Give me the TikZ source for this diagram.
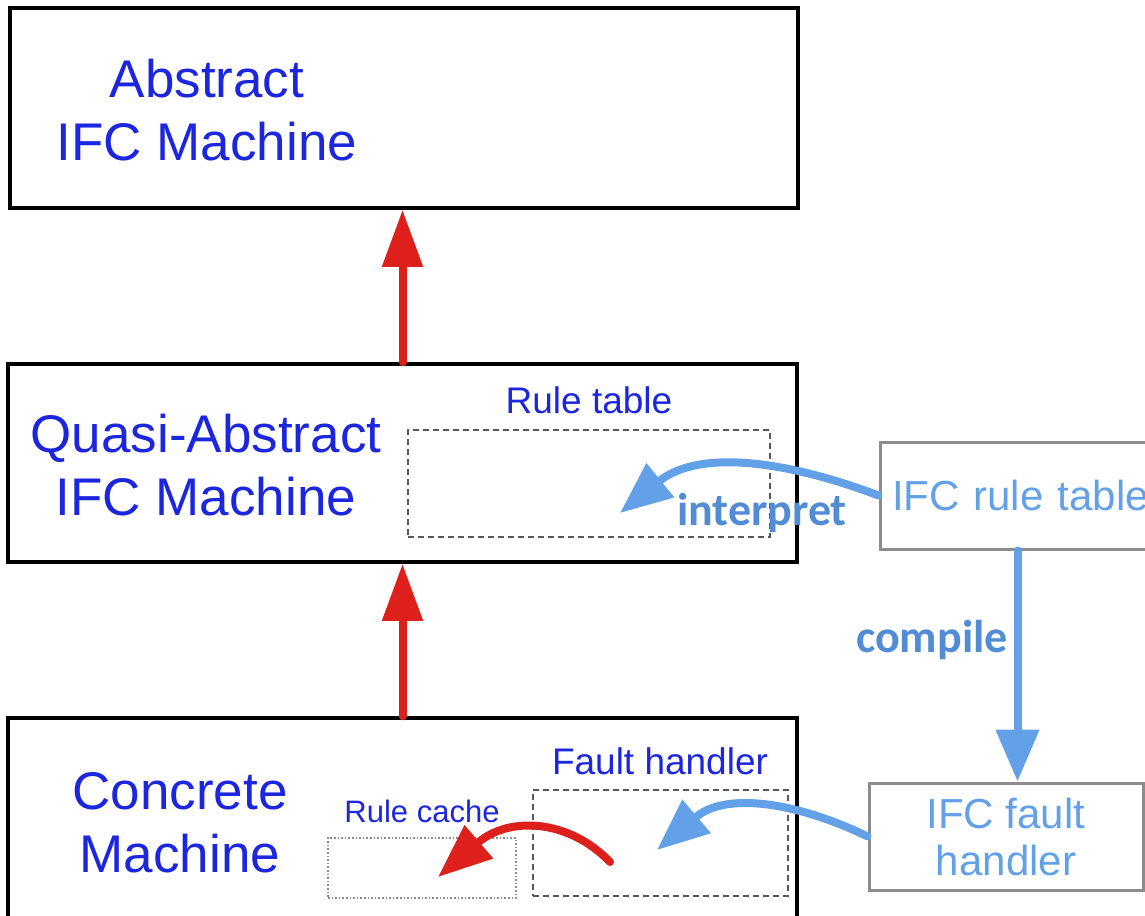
\documentclass[tikz,border=0pt]{standalone}
\usepackage{fontspec}
\setmainfont{Liberation Sans}
\newfontfamily\labelfont{Carlito}
\usetikzlibrary{arrows.meta}
\definecolor{machblue}{RGB}{28,38,222}
\definecolor{ifcblue}{RGB}{98,160,232}
\definecolor{verbblue}{RGB}{82,140,212}
\definecolor{redarrow}{RGB}{222,32,28}
\definecolor{boxgray}{RGB}{140,140,140}
\tikzset{
  machine/.style={draw=black, line width=3.5pt, minimum width=#1, inner sep=0pt},
  machtext/.style={text=machblue, align=center, font=\fontsize{53}{63}\selectfont, inner sep=0pt},
  subtext/.style={text=machblue, inner sep=0pt},
  ifcbox/.style={draw=boxgray, line width=3pt, text=ifcblue, align=center, inner sep=0pt,
                 font=\fontsize{42}{47}\selectfont},
  refine/.style={draw=redarrow, line width=8pt, line cap=round,
                 -{Triangle[length=57pt,width=39pt]}},
  flow/.style={draw=ifcblue, line width=8pt, line cap=round,
               -{Triangle[length=52pt,width=42pt]}},
  verb/.style={text=verbblue, font=\labelfont\bfseries\fontsize{46}{46}\selectfont, inner sep=0pt},
  component/.style={draw=black!65, line width=1.8pt, dash pattern=on 6pt off 4pt, inner sep=0pt},
}
\begin{document}
\begin{tikzpicture}[x=1pt,y=-1pt]
\useasboundingbox (0,0) rectangle (1145,915);

% three machine levels
\node[machine=788pt, minimum height=200pt] (abstract) at (404,108) {};
\node[machine=789pt, minimum height=198pt] (quasi) at (402.5,463) {};
\node[machine=789pt, minimum height=204pt] (concrete) at (402.5,820) {};

\node[machtext] (abstractlbl) at (207,110) {Abstract\\IFC Machine};
\node[machtext] (quasilbl) at (206,465) {Quasi-Abstract\\IFC Machine};
\node[machtext] (concretelbl) at (180,823) {Concrete\\Machine};

% internal components
\node[component, minimum width=362pt, minimum height=107pt] (ruletable) at (589,483.5) {};
\node[subtext, font=\fontsize{37}{37}\selectfont] (ruletablelbl) at (589,400) {Rule table};

\node[component, minimum width=255pt, minimum height=106pt] (faulthandler) at (660.5,843) {};
\node[subtext, font=\fontsize{37}{37}\selectfont] (faulthandlerlbl) at (660,761) {Fault handler};

\node[draw=black!45, dotted, line width=1.6pt, minimum width=188pt, minimum height=60pt,
      inner sep=0pt] (rulecache) at (422,868) {};
\node[subtext, font=\fontsize{31}{31}\selectfont] (rulecachelbl) at (422,811) {Rule cache};

% IFC policy sources
\node[ifcbox, minimum width=275pt, minimum height=107pt, text width=275pt, align=left]
  (ifcrule) at (1017.5,495.5) {\hspace*{12pt}IFC rule table};
\node[ifcbox, minimum width=274pt, minimum height=107pt] (ifcfault) at (1006,836.5)
  {IFC fault\\handler};

% refinement arrows
\draw[refine] (quasi.north) -- (quasi.north |- abstract.south);
\draw[refine] (concrete.north) -- (concrete.north |- quasi.south);

% interpret / compile flows
\coordinate (interptip) at (620,513);
\draw[flow] (ifcrule.west) .. controls (790,462) and (700,448) .. (interptip);
\node[verb] (interpret) at (762,513) {interpret};

\draw[flow] (ifcrule.south) -- (ifcrule.south |- ifcfault.north);
\node[verb] (compile) at (932,640) {compile};

\coordinate (faulttip) at (657,850);
\draw[flow] (ifcfault.west) .. controls (810,808) and (730,788) .. (faulttip);

% cache fill
\coordinate (cachesrc) at (610,862);
\coordinate (cachetip) at (438,877);
\draw[refine, -{Triangle[length=54pt,width=42pt]}] (cachesrc) .. controls (570,820) and (510,815) .. (cachetip);
\end{tikzpicture}
\end{document}
